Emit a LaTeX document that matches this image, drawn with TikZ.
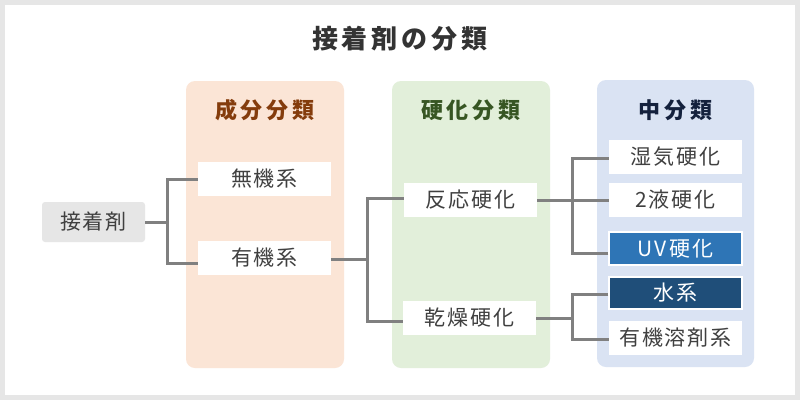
\documentclass[tikz,border=0pt]{standalone}
\usepackage{fontspec}
\setmainfont{Noto Sans CJK JP}
\usetikzlibrary{calc}
\definecolor{bgout}{HTML}{E6E6E6}
\definecolor{porange}{HTML}{FBE5D6}
\definecolor{pgreen}{HTML}{E2EFDA}
\definecolor{pblue}{HTML}{DAE3F3}
\definecolor{horange}{HTML}{843C0C}
\definecolor{hgreen}{HTML}{375623}
\definecolor{hblue}{HTML}{14213D}
\definecolor{txt}{HTML}{404040}
\definecolor{ttl}{HTML}{333333}
\definecolor{conncol}{HTML}{808080}
\definecolor{uvblue}{HTML}{2E75B6}
\definecolor{navy}{HTML}{1F4E79}
\makeatletter
\newdimen\ls@dim
\def\ls@end{\relax}
\newcommand\lsp[2]{\ls@dim=#1\relax\ls@loop#2\ls@end}
\def\ls@loop#1#2\ls@end{#1\ifx\ls@end#2\ls@end\else\kern\ls@dim\ls@loop#2\ls@end\fi}
\makeatother
\newcommand\nodefont{\fontsize{21}{25}\selectfont}
\newcommand\headfont{\fontsize{22}{26}\selectfont\bfseries}
\newcommand\titlefont{\fontsize{26}{31}\selectfont\bfseries}
\begin{document}
\begin{tikzpicture}[x=1pt,y=-1pt,
  panel/.style={rounded corners=9pt},
  box/.style={fill=white, minimum width=133pt, minimum height=34pt, inner sep=0pt, text=txt, font=\nodefont},
  rootbox/.style={fill=bgout, rounded corners=3pt, minimum width=103pt, minimum height=40pt, inner sep=0pt, text=txt, font=\nodefont},
  darkbox/.style={box, draw=white, line width=1.5pt, text=white},
  conn/.style={draw=conncol, line width=3pt},
  head/.style={inner sep=0pt, font=\headfont}]
\useasboundingbox (0,0) rectangle (800,400);
\fill[bgout] (0,0) rectangle (800,400);
\fill[white] (5,5) rectangle (795,395);
\node[text=ttl, font=\titlefont, inner sep=0pt] (title) at (400,39) {\lsp{4pt}{接着剤の分類}};
% panels
\fill[porange, panel] (186,81) rectangle (344,368);
\fill[pgreen, panel] (392,81) rectangle (550,368);
\fill[pblue, panel] (597,80) rectangle (754,367);
\node[head, text=horange] (h1) at (265,110) {\lsp{4pt}{成分分類}};
\node[head, text=hgreen] (h2) at (471,110) {\lsp{4pt}{硬化分類}};
\node[head, text=hblue] (h3) at (675.5,110) {\lsp{4pt}{中分類}};
% nodes
\node[rootbox] (root) at (93.5,222) {\lsp{2pt}{接着剤}};
\node[box] (muki) at (264.5,179) {\lsp{2pt}{無機系}};
\node[box] (yuki) at (264.5,258) {\lsp{2pt}{有機系}};
\node[box] (hanno) at (470.5,200) {\lsp{2pt}{反応硬化}};
\node[box] (kanso) at (469.5,318) {\lsp{2pt}{乾燥硬化}};
\node[box] (shikke) at (675.5,157) {\lsp{2pt}{湿気硬化}};
\node[box] (nieki) at (675.5,200) {\lsp{2pt}{2液硬化}};
\node[darkbox, fill=uvblue, minimum height=33pt] (uv) at (675.5,248.5) {\lsp{2.5pt}{UV硬化}};
\node[darkbox, fill=navy, minimum height=32pt] (sui) at (675.5,293) {\lsp{2pt}{水系}};
\node[box] (yozai) at (675.5,338) {\lsp{2pt}{有機溶剤系}};
% connectors
\coordinate (j1) at (167.5,222);
\coordinate (j2) at (367,259);
\coordinate (j3) at (572,200);
\coordinate (j4) at (572,318);
\draw[conn] (root.east) -- (j1);
\draw[conn] (muki.west) -| (j1);
\draw[conn] ($(yuki.west)+(0,5)$) -| (j1);
\draw[conn] (yuki.east |- j2) -- (j2);
\draw[conn] ($(hanno.west)+(0,-2)$) -| (j2);
\draw[conn] ($(kanso.west)+(0,3)$) -| (j2);
\draw[conn] (hanno.east) -- (j3);
\draw[conn] ($(shikke.west)+(0,1)$) -| (j3);
\draw[conn] (nieki.west) -- (j3);
\draw[conn] ($(uv.west)+(0,4.5)$) -| (j3);
\draw[conn] (kanso.east) -- (j4);
\draw[conn] ($(sui.west)+(0,1)$) -| (j4);
\draw[conn] ($(yozai.west)+(0,1)$) -| (j4);
\end{tikzpicture}
\end{document}
